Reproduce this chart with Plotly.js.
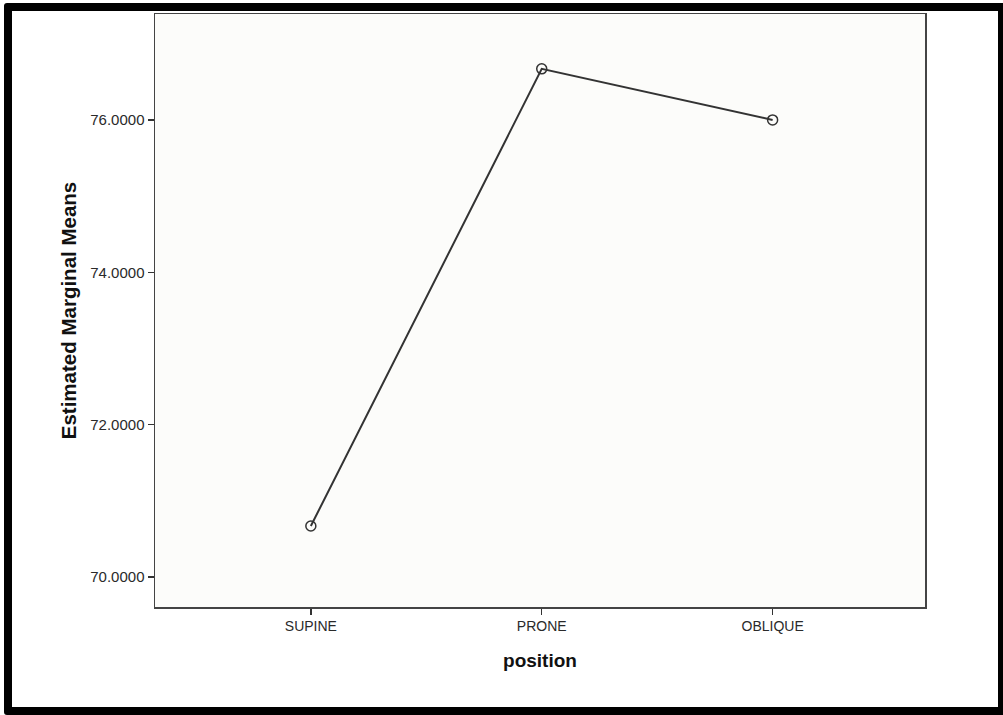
<!DOCTYPE html>
<html>
<head>
<meta charset="utf-8">
<script src="https://cdn.plot.ly/plotly-3.0.1.min.js"></script>
<style>
  html, body { margin: 0; padding: 0; background: #ffffff; }
  #wrap { position: relative; width: 1003px; height: 715px; overflow: hidden; }
  #chart { position: absolute; left: 0; top: 0; width: 1003px; height: 715px; }
  #frame { position: absolute; left: 4px; top: 3px; width: 986px; height: 696px; border: 8px solid #000; border-radius: 3px; pointer-events: none; }
</style>
</head>
<body>
<div id="wrap">
  <div id="chart"></div>
  <div id="frame"></div>
</div>
<script>
const categories = ["SUPINE", "PRONE", "OBLIQUE"];
const meanValues = [70.67, 76.67, 76.0];
const yTickValues = [70, 72, 74, 76];
const yTickLabels = ["70.0000", "72.0000", "74.0000", "76.0000"];

const trace = {
  x: [0, 1, 2],
  y: meanValues,
  type: "scatter",
  mode: "lines+markers",
  line: { color: "#333333", width: 2 },
  marker: { symbol: "circle-open", size: 10, color: "#333333", line: { width: 1.5 } },
  hoverinfo: "skip"
};

const layout = {
  width: 1003,
  height: 715,
  paper_bgcolor: "#ffffff",
  plot_bgcolor: "#fcfcfa",
  margin: { l: 155, r: 78, t: 14, b: 108 },
  showlegend: false,
  font: { family: "Liberation Sans, Arial, sans-serif", color: "#222" },
  xaxis: {
    range: [-0.675, 2.66],
    tickvals: [0, 1, 2],
    ticktext: categories,
    ticks: "outside",
    ticklen: 6,
    tickwidth: 1.5,
    tickcolor: "#333",
    showline: true,
    linecolor: "#444",
    linewidth: 1.5,
    mirror: true,
    showgrid: false,
    zeroline: false,
    tickfont: { size: 14, color: "#2a2a2a" },
    title: { text: "<b>position</b>", font: { size: 19, color: "#111" }, standoff: 20 }
  },
  yaxis: {
    range: [69.607, 77.39],
    tickvals: yTickValues,
    ticktext: yTickLabels,
    ticks: "outside",
    ticklen: 6,
    tickwidth: 1.5,
    tickcolor: "#333",
    showline: true,
    linecolor: "#444",
    linewidth: 1.5,
    mirror: true,
    showgrid: false,
    zeroline: false,
    tickfont: { size: 15, color: "#2a2a2a" },
    title: { text: "<b>Estimated Marginal Means</b>", font: { size: 20.5, color: "#111" }, standoff: 8 }
  }
};

Plotly.newPlot("chart", [trace], layout, { displayModeBar: false, staticPlot: true });
</script>
</body>
</html>
